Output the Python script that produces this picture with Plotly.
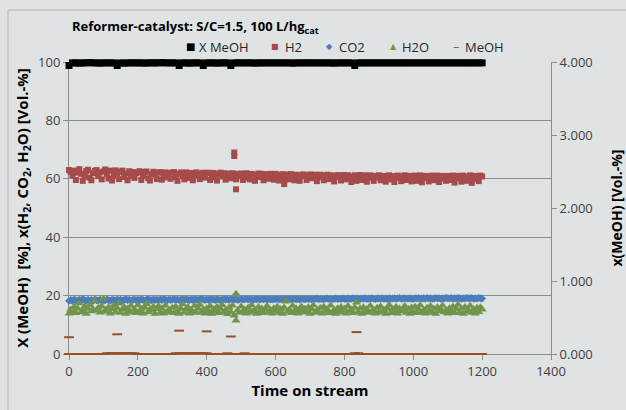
import plotly.graph_objects as go

# ---------------- data ----------------
time_5 = list(range(0, 1201, 5))    # gas-analysis sampling grid [h]
time_10 = list(range(0, 1201, 10))  # conversion / MeOH sampling grid [h]

x_meoh = [
    98.8, 99.7, 99.7, 99.6, 99.7, 99.7, 99.8, 99.7, 99.7, 99.6,
    99.7, 99.7, 99.7, 99.7, 98.8, 99.7, 99.6, 99.7, 99.7, 99.7,
    99.7, 99.7, 99.6, 99.7, 99.7, 99.7, 99.7, 99.8, 99.7, 99.7,
    99.7, 99.7, 98.8, 99.7, 99.7, 99.6, 99.7, 99.7, 99.7, 98.8,
    99.7, 99.7, 99.7, 99.6, 99.7, 99.7, 99.7, 98.8, 99.7, 99.7,
    99.7, 99.7, 99.7, 99.7, 99.6, 99.7, 99.7, 99.7, 99.7, 99.7,
    99.7, 99.7, 99.7, 99.7, 99.7, 99.6, 99.7, 99.7, 99.7, 99.7,
    99.7, 99.7, 99.7, 99.7, 99.7, 99.7, 99.7, 99.6, 99.7, 99.7,
    99.7, 99.7, 99.7, 98.8, 99.7, 99.7, 99.7, 99.7, 99.7, 99.7,
    99.7, 99.7, 99.7, 99.7, 99.7, 99.7, 99.7, 99.7, 99.7, 99.7,
    99.7, 99.7, 99.7, 99.7, 99.7, 99.7, 99.7, 99.7, 99.7, 99.7,
    99.7, 99.7, 99.7, 99.7, 99.7, 99.7, 99.7, 99.7, 99.7, 99.7,
    99.7,
]

h2 = [
    63.0, 62.4, 61.2, 62.8, 59.6, 62.1, 63.3, 61.7, 59.3, 60.8, 62.6, 63.1, 60.4, 59.5, 61.9, 62.7, 63.0, 60.9, 62.2, 59.8,
    62.5, 63.2, 61.6, 60.1, 62.8, 59.4, 61.3, 62.9, 62.0, 59.9, 62.4, 62.8, 60.6, 61.8, 59.5, 62.6, 61.2, 62.3, 60.3, 61.9,
    62.2, 62.6, 59.6, 61.0, 62.3, 62.5, 60.2, 59.4, 61.5, 62.4, 61.8, 59.9, 62.1, 62.3, 59.7, 61.4, 62.2, 60.5, 62.0, 60.0,
    62.1, 62.3, 60.6, 59.3, 61.7, 62.2, 61.0, 59.8, 62.2, 61.6, 60.3, 62.0, 59.5, 61.2, 62.2, 61.5, 59.9, 61.8, 62.1, 60.4,
    61.9, 62.1, 59.6, 61.3, 62.0, 60.5, 59.4, 61.6, 62.1, 60.8, 61.9, 59.7, 61.4, 61.8, 60.2, 61.9, 61.2, 59.8, 61.7, 60.9,
    61.8, 59.6, 61.2, 61.9, 60.4, 59.8, 61.7, 61.4, 59.3, 61.0, 61.8, 60.6, 61.7, 59.5, 61.3, 61.6, 60.0, 61.7, 61.0, 59.7,
    61.7, 61.3, 59.4, 60.8, 61.6, 59.2, 61.1, 61.5, 59.8, 61.6, 60.7, 59.5, 61.4, 61.2, 59.3, 60.9, 61.5, 61.0, 59.6, 61.3,
    61.5, 60.2, 61.0, 61.4, 59.2, 60.6, 61.4, 61.1, 59.5, 61.0, 61.4, 59.9, 61.2, 61.0, 59.1, 60.7, 61.3, 60.8, 59.4, 61.2,
    61.3, 59.8, 61.2, 60.5, 58.9, 60.8, 61.2, 59.3, 60.9, 61.3, 59.6, 60.8, 61.2, 59.0, 60.4, 61.2, 60.7, 59.3, 61.0, 60.5,
    61.2, 59.5, 60.6, 61.0, 59.0, 60.5, 61.2, 59.8, 60.9, 58.9, 60.3, 61.1, 60.6, 59.2, 60.8, 61.2, 59.6, 60.6, 61.0, 59.1,
    60.7, 61.1, 59.3, 60.6, 61.2, 58.8, 60.2, 61.0, 60.5, 59.1, 60.9, 61.1, 59.5, 60.4, 61.1, 58.9, 60.1, 61.0, 60.6, 59.3,
    61.0, 59.6, 60.5, 61.1, 58.7, 60.2, 61.0, 60.5, 59.0, 61.1, 60.7, 59.3, 60.4, 61.2, 58.6, 60.0, 61.0, 60.6, 59.2, 61.1,
    60.8,
]

co2 = [
    18.2, 18.5, 18.1, 18.7, 18.4, 18.0, 18.6, 18.3, 18.9, 18.4, 18.2, 18.6, 18.3, 18.5, 18.1, 18.7, 18.4, 18.3, 18.6, 18.2,
    18.5, 18.3, 18.7, 18.4, 18.2, 18.6, 18.5, 18.3, 18.7, 18.4, 18.6, 18.3, 18.5, 18.8, 18.4, 18.6, 18.3, 18.5, 18.7, 18.4,
    18.6, 18.4, 18.7, 18.5, 18.3, 18.6, 18.8, 18.5, 18.4, 18.7, 18.5, 18.6, 18.4, 18.7, 18.5, 18.8, 18.6, 18.4, 18.7, 18.5,
    18.6, 18.8, 18.5, 18.7, 18.4, 18.6, 18.8, 18.5, 18.7, 18.6, 18.4, 18.7, 18.5, 18.8, 18.6, 18.5, 18.7, 18.9, 18.6, 18.5,
    18.7, 18.5, 18.8, 18.6, 18.7, 18.5, 18.8, 18.6, 18.4, 18.7, 18.8, 18.6, 18.7, 18.5, 18.8, 18.7, 18.6, 18.8, 18.5, 18.7,
    18.8, 18.6, 18.7, 18.9, 18.6, 18.8, 18.7, 18.5, 18.8, 18.7, 18.9, 18.6, 18.8, 18.7, 18.9, 18.6, 18.8, 18.7, 18.6, 18.8,
    18.7, 18.9, 18.6, 18.8, 18.7, 18.9, 18.8, 18.6, 18.9, 18.7, 18.8, 18.9, 18.7, 18.8, 18.6, 18.9, 18.8, 18.7, 18.9, 18.8,
    18.8, 18.7, 18.9, 18.8, 19.0, 18.7, 18.9, 18.8, 18.7, 18.9, 19.0, 18.8, 18.9, 18.7, 18.9, 19.0, 18.8, 18.9, 18.8, 19.0,
    18.9, 18.8, 19.0, 18.8, 18.9, 19.1, 18.8, 19.0, 18.9, 18.8, 19.0, 18.9, 19.1, 18.8, 19.0, 18.9, 19.1, 18.9, 18.8, 19.0,
    19.0, 18.9, 19.1, 18.9, 19.0, 18.8, 19.1, 18.9, 19.0, 19.1, 18.9, 19.0, 19.2, 18.9, 19.0, 19.1, 18.9, 19.0, 19.1, 18.9,
    18.9, 19.1, 19.0, 19.2, 18.9, 19.0, 19.1, 18.9, 19.2, 19.0, 19.1, 18.9, 19.0, 19.2, 19.0, 19.1, 18.9, 19.1, 19.0, 19.2,
    19.1, 19.0, 19.2, 18.9, 19.1, 19.0, 19.2, 19.1, 18.9, 19.1, 19.0, 19.2, 19.1, 19.0, 19.2, 18.9, 19.1, 19.0, 19.2, 19.1,
    19.0,
]

h2o = [
    13.9, 15.2, 14.4, 16.1, 14.0, 15.6, 17.4, 14.3, 15.0, 16.3, 13.8, 15.5, 16.8, 14.6, 15.3, 18.2, 14.9, 15.8, 14.2, 16.4,
    18.9, 15.1, 14.5, 16.0, 13.9, 15.4, 16.6, 14.3, 15.7, 17.3, 14.1, 15.2, 16.1, 13.8, 15.6, 14.7, 16.5, 14.2, 15.3, 14.0,
    16.7, 14.4, 15.5, 13.9, 15.9, 17.1, 14.3, 15.2, 14.8, 16.2, 13.8, 15.4, 16.4, 14.1, 15.6, 13.9, 16.6, 14.5, 15.1, 14.2,
    15.8, 14.0, 16.3, 14.6, 13.8, 15.5, 17.0, 14.2, 15.3, 16.1, 13.9, 15.0, 14.4, 16.5, 14.1, 15.6, 16.9, 14.3, 15.2, 13.9,
    15.7, 14.2, 16.4, 13.8, 15.3, 14.6, 16.2, 14.0, 15.5, 16.8, 14.3, 15.1, 13.7, 15.9, 14.4, 16.6, 13.2, 20.6, 15.0, 14.1,
    16.3, 14.5, 15.2, 13.9, 15.8, 14.2, 16.7, 14.6, 15.0, 13.8, 16.1, 14.3, 15.6, 14.0, 15.3, 16.4, 14.4, 15.1, 13.9, 15.7,
    14.8, 16.2, 14.1, 15.4, 13.8, 15.9, 18.0, 14.5, 15.2, 14.0, 16.5, 14.3, 15.6, 13.9, 15.1, 16.3, 14.2, 15.5, 14.6, 16.0,
    13.8, 15.3, 16.7, 14.1, 15.0, 14.4, 15.8, 13.9, 16.2, 14.6, 15.4, 14.0, 16.6, 14.3, 15.1, 13.8, 15.7, 14.5, 16.1, 14.2,
    15.5, 13.9, 16.4, 14.7, 15.2, 14.0, 15.9, 17.6, 14.3, 15.6, 13.8, 16.0, 14.4, 15.3, 14.1, 16.5, 14.6, 15.0, 13.9, 15.8,
    14.2, 16.3, 14.5, 15.1, 13.8, 15.7, 16.8, 14.0, 15.4, 14.3, 16.1, 13.9, 15.6, 14.6, 15.2, 16.4, 14.1, 15.5, 13.8, 15.9,
    14.4, 16.2, 14.0, 15.3, 16.7, 14.2, 15.0, 13.9, 15.8, 14.5, 16.4, 14.1, 15.5, 13.8, 16.0, 14.6, 15.2, 16.6, 14.3, 15.1,
    13.9, 15.7, 14.4, 16.3, 14.0, 15.4, 16.9, 14.2, 15.6, 13.8, 16.1, 14.5, 15.0, 16.5, 14.1, 15.3, 13.9, 15.8, 14.4, 16.0,
    15.2,
]

meoh = [
    0.000, 0.000, 0.000, 0.000, 0.000, 0.000, 0.000, 0.000, 0.000, 0.000,
    0.000, 0.010, 0.010, 0.010, 0.010, 0.010, 0.010, 0.010, 0.010, 0.010,
    0.000, 0.000, 0.000, 0.000, 0.000, 0.000, 0.000, 0.000, 0.000, 0.000,
    0.000, 0.010, 0.010, 0.010, 0.010, 0.010, 0.010, 0.010, 0.010, 0.010,
    0.010, 0.000, 0.000, 0.000, 0.000, 0.000, 0.010, 0.000, 0.000, 0.000,
    0.000, 0.010, 0.000, 0.000, 0.000, 0.000, 0.000, 0.000, 0.000, 0.000,
    0.000, 0.000, 0.000, 0.000, 0.000, 0.000, 0.000, 0.000, 0.000, 0.000,
    0.000, 0.000, 0.000, 0.000, 0.000, 0.000, 0.000, 0.000, 0.000, 0.000,
    0.000, 0.000, 0.000, 0.010, 0.010, 0.000, 0.000, 0.000, 0.000, 0.000,
    0.000, 0.000, 0.000, 0.000, 0.000, 0.000, 0.000, 0.000, 0.000, 0.000,
    0.000, 0.000, 0.000, 0.000, 0.000, 0.000, 0.000, 0.000, 0.000, 0.000,
    0.000, 0.000, 0.000, 0.000, 0.000, 0.000, 0.000, 0.000, 0.000, 0.000,
    0.000,
]

# isolated readings (outliers / extra samples)
h2_extra_t = [480, 480, 485, 625]
h2_extra_v = [69.0, 67.8, 56.4, 58.2]
h2o_extra_t = [485]
h2o_extra_v = [11.5]
meoh_extra_t = [0, 140, 320, 400, 470, 835]
meoh_extra_v = [0.23, 0.27, 0.32, 0.31, 0.24, 0.30]

series_names = ["X MeOH", "H2", "CO2", "H2O", "MeOH"]

# ---------------- styling ----------------
BG = "#dfe3e4"
C_X = "#000000"
C_H2 = "#a64b4a"
C_CO2 = "#4a7ebb"
C_H2O = "#72944a"
C_MEOH = "#9a4f22"
GRID = "#8c8c8c"
TICK = "#404040"
colors = [C_X, C_H2, C_CO2, C_H2O, C_MEOH]
glyphs = ["■", "■", "◆", "▲", "–"]
glyph_sizes = [10, 8, 8, 8, 13]
legend_marker_x = [190, 275, 329, 393, 456]
legend_text_x = [197, 283, 337, 400, 463]
legend_y = 47

FONT = "Open Sans, Noto Sans, sans-serif"

fig = go.Figure()

fig.add_trace(go.Scatter(x=time_10, y=x_meoh, mode="markers", name=series_names[0], cliponaxis=False,
                         marker=dict(symbol="square", size=7, color=C_X)))
fig.add_trace(go.Scatter(x=time_5 + h2_extra_t, y=h2 + h2_extra_v, mode="markers", name=series_names[1],
                         cliponaxis=False,
                         marker=dict(symbol="square", size=6, color=C_H2)))
fig.add_trace(go.Scatter(x=time_5, y=co2, mode="markers", name=series_names[2], cliponaxis=False,
                         marker=dict(symbol="diamond", size=6, color=C_CO2)))
fig.add_trace(go.Scatter(x=time_5 + h2o_extra_t, y=h2o + h2o_extra_v, mode="markers", name=series_names[3],
                         cliponaxis=False,
                         marker=dict(symbol="triangle-up", size=8, color=C_H2O)))
fig.add_trace(go.Scatter(x=time_10 + meoh_extra_t, y=meoh + meoh_extra_v, mode="markers", name=series_names[4],
                         yaxis="y2", cliponaxis=False,
                         marker=dict(symbol="line-ew", size=7, color=C_MEOH,
                                     line=dict(color=C_MEOH, width=2))))

W, H = 626, 410
L, R, T, B = 69, 75, 62, 56

fig.update_layout(
    width=W, height=H,
    margin=dict(l=L, r=R, t=T, b=B, pad=0, autoexpand=False),
    paper_bgcolor=BG, plot_bgcolor=BG,
    font=dict(family=FONT, size=13, color=TICK),
    title=dict(text="<b>Reformer-catalyst: S/C=1.5, 100 L/hg<sub>cat</sub></b>",
               x=72 / W, xanchor="left", xref="container",
               y=1 - 22 / H, yanchor="top", yref="container",
               font=dict(size=13, color="#000000")),
    showlegend=False,
    xaxis=dict(range=[0, 1400], dtick=200, tick0=0, showgrid=False, automargin=False,
               showline=True, linecolor=GRID, linewidth=1, layer="below traces",
               ticks="outside", ticklen=5, tickcolor=GRID,
               tickfont=dict(size=13, color=TICK), zeroline=False,
               title=dict(text="<b>Time on stream</b>", font=dict(size=15, color="#000000"),
                          standoff=3)),
    yaxis=dict(range=[0, 100], dtick=20, tick0=0, showgrid=True, gridcolor=GRID, gridwidth=1,
               automargin=False, layer="below traces",
               showline=True, linecolor=GRID, linewidth=1,
               ticks="outside", ticklen=5, tickcolor=GRID,
               tickfont=dict(size=13, color=TICK), zeroline=False,
               title=dict(text="<b>X (MeOH)  [%], x(H<sub>2</sub>, CO<sub>2</sub>, H<sub>2</sub>O) [Vol.-%]</b>",
                          font=dict(size=15, color="#000000"), standoff=5)),
    yaxis2=dict(range=[0, 4], dtick=1, tick0=0, tickformat=".3f", overlaying="y", side="right",
                automargin=False, layer="below traces",
                showgrid=False, showline=True, linecolor=GRID, linewidth=1,
                ticks="outside", ticklen=5, tickcolor=GRID, zeroline=False,
                tickfont=dict(size=13, color=TICK),
                title=dict(text="<b>x(MeOH) [Vol.-%]</b>", font=dict(size=14, color="#000000"),
                           standoff=20)),
)

# legend drawn as text row (marker glyph + series name)
for name, col, g, gs, mx, tx in zip(series_names, colors, glyphs, glyph_sizes,
                                    legend_marker_x, legend_text_x):
    fig.add_annotation(text=g, xref="paper", yref="paper",
                       x=(mx - L) / (W - L - R), y=(H - B - legend_y) / (H - T - B),
                       xanchor="center", yanchor="middle", showarrow=False,
                       font=dict(size=gs, color=col, family="DejaVu Sans"))
    fig.add_annotation(text=name, xref="paper", yref="paper",
                       x=(tx - L) / (W - L - R), y=(H - B - legend_y) / (H - T - B),
                       xanchor="left", yanchor="middle", showarrow=False,
                       font=dict(size=13, color="#262626", family=FONT))

# outer chart frame
fig.add_shape(type="rect", xref="paper", yref="paper",
              x0=(8 - L) / (W - L - R), x1=(640 - L) / (W - L - R),
              y0=(H - B - 420) / (H - T - B), y1=(H - B - 10) / (H - T - B),
              line=dict(color="#b4b4b4", width=1), fillcolor="rgba(0,0,0,0)", layer="below")

fig.write_html(
    "out.html",
    config={"displayModeBar": False},
    post_script="document.body.style.margin='0px';document.body.style.backgroundColor='#dfe3e4';",
)
